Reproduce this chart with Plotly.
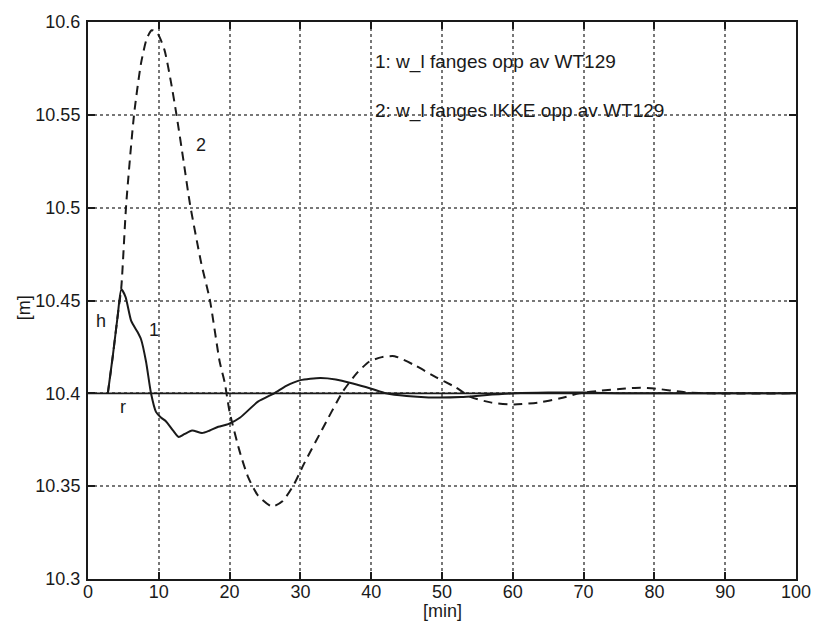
import plotly.graph_objects as go

# Series 1: w_l fanges opp av WT129 (solid)
x1 = [2.8, 3.5, 4.2, 4.7, 5.3, 6.1, 7.0, 7.5, 8.2, 8.9, 9.6, 10.3, 11.0, 12.0, 12.8,
      13.6, 14.7, 16.1, 17.2, 18.4, 19.8, 21.5, 24.0, 26.3, 28.0, 30.0, 32.8, 35.0,
      37.4, 40.0, 42.1, 45.0, 48.1, 52.7, 56.0, 60.2, 65.0, 70.0, 75.0, 100.0]
y1 = [10.400, 10.420, 10.442, 10.456, 10.452, 10.439, 10.433, 10.429, 10.417, 10.400,
      10.390, 10.387, 10.385, 10.380, 10.3765, 10.378, 10.380, 10.3786, 10.380, 10.382,
      10.3834, 10.387, 10.3955, 10.400, 10.404, 10.4071, 10.4083, 10.4075, 10.4053,
      10.4025, 10.400, 10.3985, 10.3978, 10.398, 10.399, 10.400, 10.4004, 10.4004,
      10.400, 10.400]

# Series 2: w_l fanges IKKE opp av WT129 (dashed)
x2 = [2.8, 3.5, 4.2, 4.7, 5.4, 6.5, 7.5, 8.3, 9.0, 9.8, 10.8, 11.7, 12.5, 13.5, 14.4,
      16.0, 17.2, 18.6, 19.3, 20.0, 21.4, 22.6, 24.0, 26.0, 27.5, 29.1, 30.5, 33.0,
      36.0, 38.0, 39.7, 41.5, 43.3, 46.2, 49.0, 51.8, 54.1, 57.0, 60.2, 63.5, 66.7,
      69.4, 72.5, 75.9, 78.0, 80.0, 84.3, 88.0, 100.0]
y2 = [10.400, 10.420, 10.442, 10.457, 10.502, 10.550, 10.578, 10.591, 10.5956, 10.594,
      10.585, 10.568, 10.550, 10.525, 10.502, 10.470, 10.4506, 10.417, 10.406, 10.390,
      10.369, 10.355, 10.345, 10.339, 10.342, 10.351, 10.362, 10.380, 10.401, 10.411,
      10.417, 10.4195, 10.420, 10.415, 10.409, 10.4035, 10.398, 10.395, 10.394, 10.395,
      10.3973, 10.400, 10.4015, 10.4026, 10.403, 10.4026, 10.4006, 10.400, 10.400]

# Reference r
xr = [0, 100]
yr = [10.4, 10.4]

x_ticks = [0, 10, 20, 30, 40, 50, 60, 70, 80, 90, 100]
y_ticks = [10.3, 10.35, 10.4, 10.45, 10.5, 10.55, 10.6]
y_tick_text = ["10.3", "10.35", "10.4", "10.45", "10.5", "10.55", "10.6"]

legend_lines = ["1: w_l fanges opp av WT129", "2: w_l fanges IKKE opp av WT129"]
legend_y = [10.5787, 10.552]
curve_labels = [("h", 1.9, 10.439), ("1", 9.3, 10.434), ("r", 4.9, 10.3928), ("2", 15.9, 10.534)]

FONT = "Liberation Sans, Arial, sans-serif"
INK = "#1a1a1a"

fig = go.Figure()
fig.add_trace(go.Scatter(x=xr, y=yr, mode="lines", line=dict(color=INK, width=1.8), hoverinfo="skip"))
fig.add_trace(go.Scatter(x=x2, y=y2, mode="lines", line=dict(color=INK, width=2, dash="9px,6px", shape="spline", smoothing=0.6), hoverinfo="skip"))
fig.add_trace(go.Scatter(x=x1, y=y1, mode="lines", line=dict(color=INK, width=2, shape="spline", smoothing=0.6), hoverinfo="skip"))

for t, yy in zip(legend_lines, legend_y):
    fig.add_annotation(x=40.3, y=yy, text=t, showarrow=False,
                       xanchor="left", yanchor="middle", font=dict(size=19, color=INK, family=FONT))
for t, xx, yy in curve_labels:
    fig.add_annotation(x=xx, y=yy, text=t, showarrow=False, xanchor="center", yanchor="middle",
                       font=dict(size=18, color=INK, family=FONT))

fig.add_annotation(xref="paper", yref="paper", x=0.5, y=-0.058, text="[min]", showarrow=False,
                   xanchor="center", yanchor="middle", borderpad=0,
                   font=dict(size=18, color=INK, family=FONT))
fig.add_annotation(xref="paper", yref="paper", x=-0.091, y=0.487, text="[m]", showarrow=False,
                   textangle=-90, xanchor="center", yanchor="middle", font=dict(size=18, color=INK, family=FONT))

axis_common = dict(showline=True, linecolor=INK, linewidth=2, mirror="ticks", ticks="inside",
                   ticklen=7, tickwidth=1.5, tickcolor=INK, showgrid=True, gridcolor="#777",
                   griddash="dot", gridwidth=1.5, zeroline=False,
                   tickfont=dict(size=18, color=INK, family=FONT))

fig.update_xaxes(range=[0, 100], tickvals=x_ticks, ticklabelstandoff=-5, **axis_common)
fig.update_yaxes(range=[10.3, 10.6], tickvals=y_ticks, ticktext=y_tick_text, ticklabelstandoff=2, **axis_common)

fig.update_layout(width=823, height=625, margin=dict(l=88, r=16, t=17, b=46),
                  plot_bgcolor="white", paper_bgcolor="white", showlegend=False,
                  font=dict(family=FONT, color=INK))

fig.write_html("out.html", config={"displayModeBar": False},
               post_script="document.body.style.margin='0';document.body.style.overflow='hidden';")
